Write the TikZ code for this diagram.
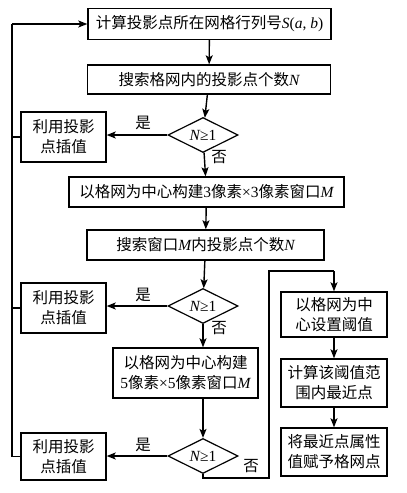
\documentclass[tikz,border=0pt]{standalone}
\usepackage{fontspec}
\setmainfont{Liberation Serif}
\newfontfamily\cjk{Noto Sans CJK SC}
\usetikzlibrary{shapes.geometric,arrows.meta}
\newcommand\lat[1]{{\rmfamily #1}}
\newcommand\vi[1]{{\rmfamily\itshape #1}}
\begin{document}
\begin{tikzpicture}[x=1pt,y=-1pt,
  every node/.style={font=\fontsize{15.5}{20}\selectfont\cjk, inner sep=0pt, align=center},
  box/.style={draw, line width=1.4pt},
  dia/.style={draw, line width=1.2pt, diamond, minimum width=70pt, minimum height=35pt},
  conn/.style={line width=1.4pt},
  arr/.style={conn, -{Stealth[length=9pt,width=7pt,inset=2pt]}},
  lbl/.style={font=\fontsize{15.5}{18}\selectfont\cjk}]
\useasboundingbox (0,0) rectangle (407,493);
\node[box, minimum width=243pt, minimum height=31pt] (b1) at (209.5,24) {计算投影点所在网格行列号\vi{S}\lat{(}\vi{a}\lat{, }\vi{b}\lat{)}};
\node[box, minimum width=243pt, minimum height=29pt] (b2) at (209,79.5) {搜索格网内的投影点个数\vi{N}};
\node[dia] (d1) at (203,135) {\makebox[0pt]{\vi{N}\lat{≥1}}};
\node[box, minimum width=85pt, minimum height=50pt] (a1) at (63.5,137) {利用投影\\点插值};
\node[box, minimum width=275pt, minimum height=30pt] (b3) at (206.5,192) {以格网为中心构建\lat{3}像素\lat{×3}像素窗口\vi{M}};
\node[box, minimum width=237pt, minimum height=30pt] (b4) at (205.5,245) {搜索窗口\vi{M}内投影点个数\vi{N}};
\node[dia] (d2) at (203,306) {\makebox[0pt]{\vi{N}\lat{≥1}}};
\node[box, minimum width=85pt, minimum height=50pt] (a2) at (63.5,308) {利用投影\\点插值};
\node[box, minimum width=145pt, minimum height=50pt] (b5) at (185.5,373) {以格网为中心构建\\\lat{5}像素\lat{×5}像素窗口\vi{M}};
\node[dia] (d3) at (203,456) {\makebox[0pt]{\vi{N}\lat{≥1}}};
\node[box, minimum width=85pt, minimum height=47pt] (a3) at (63.5,456.5) {利用投影\\点插值};
\node[box, minimum width=106pt, minimum height=45pt] (r1) at (334,314.5) {以格网为中\\心设置阈值};
\node[box, minimum width=106pt, minimum height=48pt] (r2) at (334,383) {计算该阈值范\\围内最近点};
\node[box, minimum width=106pt, minimum height=48pt] (r3) at (334,452) {将最近点属性\\值赋予格网点};
% labels
\node[lbl] (y1) at (143,123) {是};
\node[lbl] (n1) at (219,157) {否};
\node[lbl] (y2) at (143,295) {是};
\node[lbl] (n2) at (219,328) {否};
\node[lbl] (y3) at (143,445) {是};
\node[lbl] (n3) at (251,466) {否};
% main flow
\draw[arr] (b1) -- (b2);
\draw[arr] (b2) -- (d1);
\draw[arr] (d1) -- (b3);
\draw[arr] (b3) -- (b4);
\draw[arr] (b4) -- (d2);
\draw[arr] (d2.south) -- (d2.south |- b5.north);
\draw[arr] (d2.south |- b5.south) -- (d3.north);
\draw[arr] (d1.west) -- (a1.east |- d1.west);
\draw[arr] (d2.west) -- (a2.east |- d2.west);
\draw[arr] (d3.west) -- (a3.east |- d3.west);
% left loop
\coordinate (L1) at (12,24);
\coordinate (L3) at (12,456.5);
\draw[conn] (a3.west) -- (L3) -- (L1);
\draw[arr] (L1) -- (b1.west);
\draw[conn] (a1.west) -- (a1.west -| L1);
\draw[conn] (a2.west) -- (a2.west -| L1);
% right branch
\coordinate (R0) at (203,478);
\coordinate (R1) at (269,478);
\coordinate (R2) at (269,271);
\coordinate (R3) at (334,271);
\draw[conn, line join=miter] (d3.south) -- (R0) -- (R1) -- (R2) -- (R3);
\draw[arr] (R3) -- (r1.north);
\draw[arr] (r1) -- (r2);
\draw[arr] (r2) -- (r3);
\end{tikzpicture}
\end{document}
